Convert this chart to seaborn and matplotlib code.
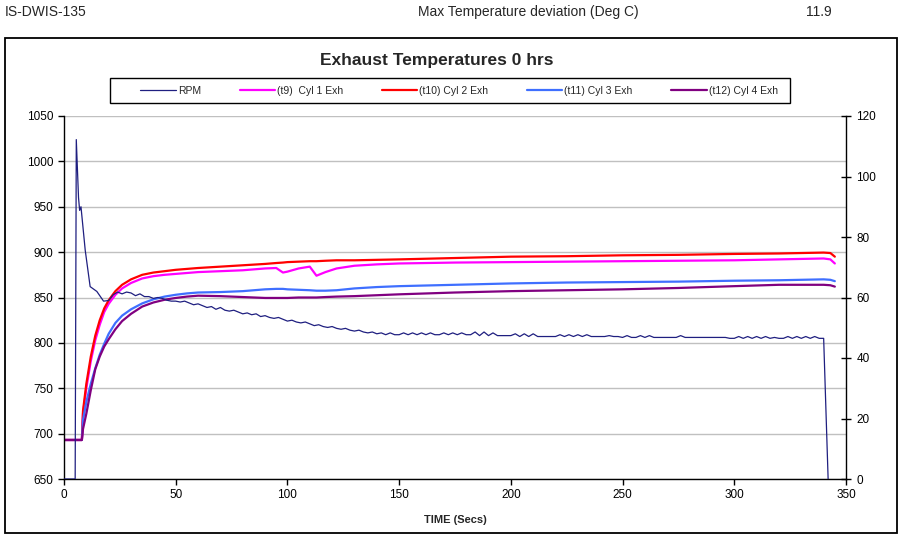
import matplotlib
matplotlib.use("Agg")
import matplotlib.pyplot as plt
from matplotlib.patches import Rectangle
from matplotlib.lines import Line2D
import seaborn as sns

# temperature series (left axis, deg C)
T_TIME = [0, 8, 8.5, 10, 12, 14, 16, 18, 20, 23, 26, 30, 35, 40, 45, 50, 55, 60, 70, 80,
          90, 95, 98, 100, 105, 110, 113, 117, 122, 130, 140, 150, 175, 200, 225, 250, 275,
          300, 320, 340, 343, 345]
CYL1 = [693, 693, 722, 750, 780, 803, 820, 834, 843, 853, 860, 866, 871, 873.5, 875, 876,
        877, 878, 879, 880, 882, 882.5, 877.5, 878.5, 882, 884, 874, 878, 882, 885, 886.5,
        887.5, 888.5, 889, 889.5, 890, 890.5, 891, 892, 893, 892, 887.5]
CYL2 = [693, 693, 725, 755, 785, 808, 825, 838, 847, 857, 864, 870, 875, 877.5, 879, 880.5,
        881.5, 882.5, 884, 885.5, 887, 888, 888.5, 889, 889.5, 890, 890, 890.5, 891, 891,
        891.5, 892, 893.5, 895, 895.5, 896.5, 897, 898, 898.5, 899.5, 899, 895]
CYL3 = [693, 693, 715, 735, 755, 772, 787, 799, 810, 822, 830, 837, 843.5, 848, 851, 853,
        854.5, 855.5, 856, 857, 859, 859.5, 859.5, 859, 858.5, 858, 857.5, 857.5, 858, 860,
        861.5, 862.5, 864, 865.5, 866.5, 867, 867.5, 868.5, 869, 870, 869.5, 868]
CYL4 = [693, 693, 705, 722, 748, 771, 785, 796, 804, 815, 824, 832, 840, 844.5, 847.5,
        849.5, 851, 852, 851.5, 850.5, 849.5, 849.5, 849.5, 849.5, 850, 850, 850, 850.5, 851,
        851.5, 852.5, 853.5, 855.5, 857, 858, 859, 860.5, 862.5, 864, 864, 863.5, 862]

# RPM (right axis)
RPM_TIME = [0, 5, 5.5, 6.5, 7, 7.6, 9.5, 11.7, 14.7, 17.7] + list(range(20, 341, 2)) + [342]
RPM = [0, 0, 112.2, 93, 88.8, 90, 75.6, 63.6, 62, 58.8,
       59.0, 60.9, 61.8, 61.2, 61.8, 61.5, 60.6, 61.2, 60.3, 60.3, 59.7, 60.0, 59.7, 59.1, 58.8,
       58.8, 58.5, 58.8, 58.2, 57.6, 57.9, 57.3, 56.7, 57.0, 56.1, 56.7, 55.8, 55.5, 55.8, 55.2,
       54.6, 54.9, 54.3, 54.6, 53.7, 54.0, 53.4, 53.1, 53.4, 52.8,
       52.2, 52.5, 51.9, 51.6, 51.9, 51.3, 50.7, 51.0, 50.4, 50.1, 50.4, 49.8, 49.5, 49.8, 49.2,
       48.9, 49.2, 48.6, 48.3, 48.6, 48.0, 48.3, 47.7, 48.3, 47.7,
       47.7, 48.3, 47.7, 48.3, 47.7, 48.3, 47.7, 48.3, 47.7, 47.7, 48.3, 47.7, 48.3, 47.7, 48.3,
       47.7, 47.7, 48.6, 47.4, 48.6, 47.4, 48.3, 47.4, 47.4, 47.4,
       47.4, 48.0, 47.1, 48.0, 47.1, 48.0, 47.1, 47.1, 47.1, 47.1, 47.1, 47.7, 47.1, 47.7, 47.1,
       47.7, 47.1, 47.7, 47.1, 47.1, 47.1, 47.1, 47.4, 47.1, 47.1,
       46.8, 47.4, 46.8, 46.8, 47.4, 46.8, 47.4, 46.8, 46.8, 46.8, 46.8, 46.8, 46.8, 47.4, 46.8,
       46.8, 46.8, 46.8, 46.8, 46.8, 46.8, 46.8, 46.8, 46.8, 46.5,
       46.5, 47.1, 46.5, 47.1, 46.5, 47.1, 46.5, 47.1, 46.5, 46.8, 46.5, 46.5, 47.1, 46.5, 47.1,
       46.5, 47.1, 46.5, 47.1, 46.5, 46.5,
       0]

LABELS = ["RPM", "(t9)  Cyl 1 Exh", "(t10) Cyl 2 Exh", "(t11) Cyl 3 Exh", "(t12) Cyl 4 Exh"]
COLORS = ["#1f1f80", "#ff00ff", "#ff0000", "#3f6fff", "#800080"]

sns.set_theme(style="white")
plt.rcParams["font.family"] = ["Liberation Sans", "DejaVu Sans"]

fig = plt.figure(figsize=(9.02, 5.36), dpi=100)
ax = fig.add_axes([64 / 902, 1 - 479 / 536, (846 - 64) / 902, (479 - 116) / 536])
ax2 = ax.twinx()

for y, c in zip([CYL1, CYL2, CYL3, CYL4], COLORS[1:]):
    sns.lineplot(x=T_TIME, y=y, ax=ax, color=c, linewidth=1.6, legend=False)
sns.lineplot(x=RPM_TIME, y=RPM, ax=ax2, color=COLORS[0], linewidth=0.9, legend=False)

ax.set_xlim(0, 350)
ax.set_ylim(650, 1050)
ax.set_xticks(range(0, 351, 50))
ax.set_yticks(range(650, 1051, 50))
ax2.set_ylim(0, 120)
ax2.set_yticks(range(0, 121, 20))
ax.yaxis.grid(True, color="#c0c0c0", linewidth=1.0)
ax.set_axisbelow(True)

for a in (ax, ax2):
    a.spines["top"].set_visible(False)
    for s in ("left", "bottom", "right"):
        a.spines[s].set_color("black")
        a.spines[s].set_linewidth(1.0)
ax.spines["right"].set_visible(False)
ax2.spines["left"].set_visible(False)
ax2.spines["bottom"].set_visible(False)

ax.tick_params(axis="both", which="both", direction="out", length=4, width=1,
               colors="black", labelsize=8.5, left=True, bottom=True)
ax2.tick_params(axis="y", direction="inout", length=7, width=1, colors="black",
                labelsize=8.5, right=True, pad=4)
ax.set_xlabel("TIME (Secs)", fontsize=8, fontweight="bold", labelpad=10)
ax.set_ylabel("")
ax2.set_ylabel("")

# legend (frameless, box drawn separately)
handles = [Line2D([], [], color=c, linewidth=(0.9 if i == 0 else 1.6)) for i, c in enumerate(COLORS)]
leg = fig.legend(handles, LABELS, loc="center", ncol=5,
                 bbox_to_anchor=(459 / 902, 1 - 90.5 / 536),
                 fontsize=7.5, frameon=False, handlelength=3.4,
                 handletextpad=0.2, columnspacing=3.7)
fig.patches.append(Rectangle((110 / 902, 1 - 103 / 536), 680 / 902, 25 / 536, fill=False,
                             edgecolor="black", linewidth=1.0, transform=fig.transFigure))

fig.text(437 / 902, 1 - 60 / 536, "Exhaust Temperatures 0 hrs", fontsize=12.5,
         fontweight="bold", ha="center", va="center")

# header row
fig.text(5 / 902, 1 - 12 / 536, "IS-DWIS-135", fontsize=10, va="center")
fig.text(418 / 902, 1 - 12 / 536, "Max Temperature deviation (Deg C)", fontsize=10, va="center")
fig.text(806 / 902, 1 - 12 / 536, "11.9", fontsize=10, va="center")

fig.patches.append(Rectangle((5 / 902, 3 / 536), 892 / 902, 495 / 536, fill=False,
                             edgecolor="black", linewidth=1.3, transform=fig.transFigure))

fig.savefig("out.png", dpi=100)
